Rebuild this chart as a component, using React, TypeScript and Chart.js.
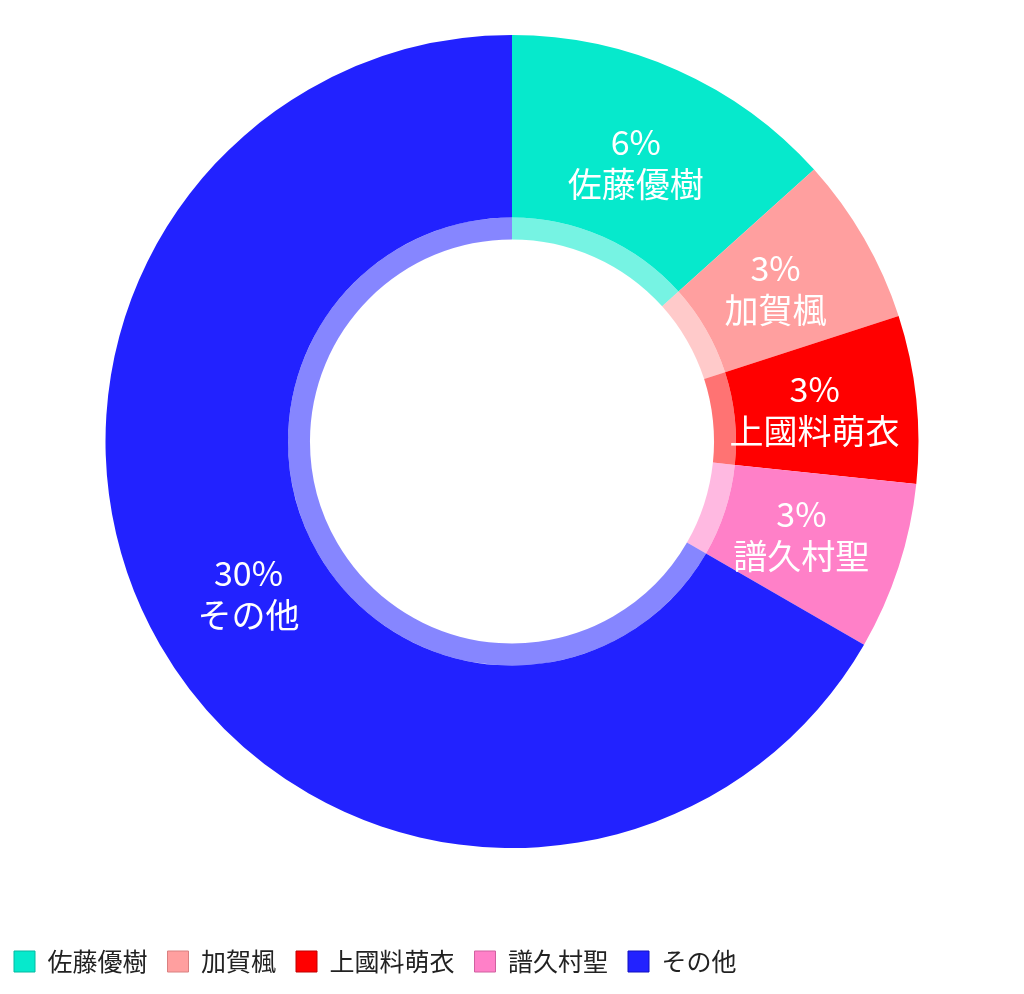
import React, { useEffect, useRef } from "react";
import { Chart, registerables } from "chart.js";

Chart.register(...registerables);

// data
const labels = ["佐藤優樹", "加賀楓", "上國料萌衣", "譜久村聖", "その他"];
const values = [6, 3, 3, 3, 30];

// styles
const colors = ["#06E9CC", "#FF9F9F", "#FF0000", "#FF80C8", "#2222FF"];
const lightColors = colors.map((c) => c + "8C");
const edgeColors = ["#04B9A2", "#D98080", "#C00000", "#D060A0", "#1010C0"];

const FONT = '"Noto Sans CJK JP", "Noto Sans", sans-serif';

// draws "n%" and the name in the middle of each slice
const sliceLabels = {
  id: "sliceLabels",
  afterDatasetsDraw(chart: Chart) {
    const outer = chart.getDatasetMeta(0);
    const inner = chart.getDatasetMeta(1);
    const { ctx } = chart;
    ctx.save();
    ctx.fillStyle = "#ffffff";
    ctx.font = `34px ${FONT}`;
    ctx.textAlign = "center";
    ctx.textBaseline = "middle";
    outer.data.forEach((el: any, i: number) => {
      const { x, y, startAngle, endAngle, outerRadius } = el.getProps(
        ["x", "y", "startAngle", "endAngle", "outerRadius"],
        true
      );
      const innerR = (inner.data[i] as any).innerRadius;
      const mid = (startAngle + endAngle) / 2;
      const r = (outerRadius + innerR) / 2;
      const cx = x + Math.cos(mid) * r;
      const cy = y + Math.sin(mid) * r;
      ctx.fillText(`${values[i]}%`, cx, cy - 21);
      ctx.fillText(String(chart.data.labels![i]), cx, cy + 21);
    });
    ctx.restore();
  },
};

export default function App() {
  const canvasRef = useRef<HTMLCanvasElement | null>(null);
  const chartInstance = useRef<Chart | null>(null);

  useEffect(() => {
    if (!canvasRef.current) return;
    if (chartInstance.current) chartInstance.current.destroy();

    const baseLabels = (Chart as any).overrides.doughnut.plugins.legend.labels
      .generateLabels;

    chartInstance.current = new Chart(canvasRef.current, {
      type: "doughnut",
      data: {
        labels,
        datasets: [
          {
            data: values,
            backgroundColor: colors,
            borderWidth: 0,
            weight: 182.5,
          },
          {
            data: values,
            backgroundColor: lightColors,
            borderWidth: 0,
            weight: 22,
          },
        ],
      },
      options: {
        responsive: false,
        animation: false,
        cutout: "49.7%",
        layout: { padding: { top: 27 } },
        plugins: {
          legend: {
            position: "bottom",
            align: "start",
            title: {
              display: true,
              text: "",
              padding: { top: 69, bottom: 0 },
              font: { size: 10 },
            },
            labels: {
              boxWidth: 21,
              boxHeight: 21,
              padding: 20,
              color: "#222222",
              font: { size: 25, family: FONT },
              generateLabels: (chart: Chart) =>
                baseLabels(chart).map((item: any, i: number) => ({
                  ...item,
                  lineWidth: 1,
                  strokeStyle: edgeColors[i],
                })),
            },
          },
          tooltip: { enabled: false },
        },
      },
      plugins: [sliceLabels],
    } as any);

    return () => {
      chartInstance.current?.destroy();
      chartInstance.current = null;
    };
  }, []);

  return (
    <div
      style={{
        position: "relative",
        width: 1008,
        height: 976,
        overflow: "hidden",
      }}
    >
      <canvas
        ref={canvasRef}
        width={1036}
        height={976}
        style={{ position: "absolute", left: -14, top: 0 }}
      ></canvas>
    </div>
  );
}
